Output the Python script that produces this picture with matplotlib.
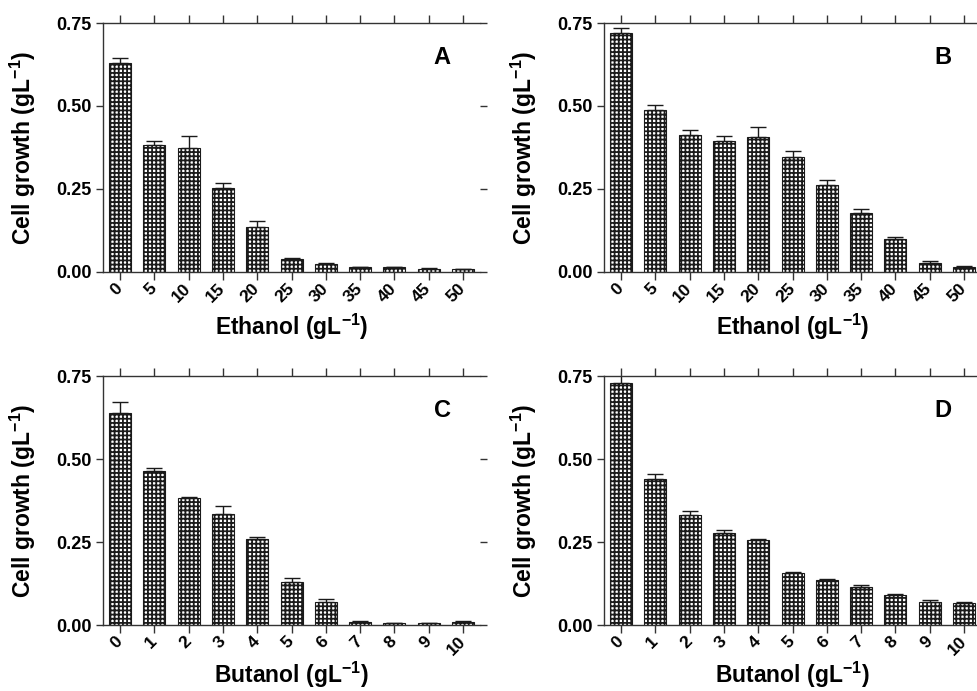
import numpy as np
import matplotlib
matplotlib.use("Agg")
import matplotlib.pyplot as plt
import matplotlib.transforms as mtransforms

plt.rcParams['font.family'] = ['Liberation Sans', 'DejaVu Sans']
plt.rcParams['font.weight'] = 'bold'
plt.rcParams['mathtext.fontset'] = 'custom'
plt.rcParams['mathtext.rm'] = 'Liberation Sans'
plt.rcParams['mathtext.bf'] = 'Liberation Sans:bold'
plt.rcParams['hatch.linewidth'] = 1.3

# concentrations (tick labels)
ethanol_conc = ['0', '5', '10', '15', '20', '25', '30', '35', '40', '45', '50']
butanol_conc = ['0', '1', '2', '3', '4', '5', '6', '7', '8', '9', '10']

# cell growth (g/L) and upper error
growth_a = [0.630, 0.383, 0.374, 0.253, 0.136, 0.040, 0.025, 0.015, 0.015, 0.010, 0.008]
err_a = [0.015, 0.011, 0.035, 0.014, 0.018, 0.001, 0.002, 0.001, 0.001, 0.001, 0.001]

growth_b = [0.719, 0.488, 0.413, 0.394, 0.407, 0.345, 0.262, 0.178, 0.100, 0.028, 0.016]
err_b = [0.015, 0.015, 0.015, 0.017, 0.030, 0.018, 0.015, 0.011, 0.005, 0.004, 0.001]

growth_c = [0.639, 0.463, 0.383, 0.334, 0.260, 0.131, 0.069, 0.010, 0.005, 0.006, 0.009]
err_c = [0.032, 0.009, 0.003, 0.024, 0.006, 0.012, 0.009, 0.001, 0.001, 0.001, 0.002]

growth_d = [0.730, 0.439, 0.332, 0.278, 0.255, 0.157, 0.137, 0.115, 0.091, 0.069, 0.067]
err_d = [0.025, 0.017, 0.011, 0.008, 0.005, 0.002, 0.001, 0.005, 0.002, 0.005, 0.001]

panels = [
    ('A', ethanol_conc, growth_a, err_a, 'Ethanol', [0.1054, 0.6064, 0.386, 0.3603], -0.253),
    ('B', ethanol_conc, growth_b, err_b, 'Ethanol', [0.6182, 0.6064, 0.386, 0.3603], -0.253),
    ('C', butanol_conc, growth_c, err_c, 'Butanol', [0.1054, 0.0955, 0.386, 0.3603], -0.233),
    ('D', butanol_conc, growth_d, err_d, 'Butanol', [0.6182, 0.0955, 0.386, 0.3603], -0.233),
]

fig = plt.figure(figsize=(9.77, 6.91), dpi=100)

for letter, conc, growth, err, solvent, rect, xlab_y in panels:
    ax = fig.add_axes(rect)
    x = np.arange(len(conc))
    ax.bar(x, growth, width=0.64, color='white', edgecolor='#1a1a1a',
           linewidth=0.8, hatch='++++')
    ax.errorbar(x, growth, yerr=[np.zeros(len(err)), err], fmt='none',
                ecolor='#1a1a1a', elinewidth=1.0, capsize=5.5, capthick=1.0)

    ax.set_xlim(-0.5, 10.5)
    ax.set_ylim(0, 0.75)
    ax.set_yticks([0, 0.25, 0.5, 0.75])
    ax.set_yticklabels(['0.00', '0.25', '0.50', '0.75'], fontsize=13,
                       fontweight='bold')
    ax.set_xticks(x)
    ax.set_xticklabels(conc, rotation=45, ha='right', va='center',
                       rotation_mode='anchor', fontsize=12.5, fontweight='bold')
    shift = mtransforms.ScaledTranslation(9 / 100, -4 / 100, fig.dpi_scale_trans)
    for lab in ax.get_xticklabels():
        lab.set_transform(lab.get_transform() + shift)

    ax.tick_params(axis='both', direction='out', length=5, width=1.0,
                   color='#333333', top=True, right=True, pad=3)
    ax.tick_params(axis='x', length=6, pad=4)
    ax.spines['right'].set_visible(False)
    for side in ['left', 'bottom', 'top']:
        ax.spines[side].set_linewidth(1.0)
        ax.spines[side].set_color('#333333')

    ax.set_ylabel('Cell growth (gL$^{\\mathbf{-1}}$)', fontsize=16.5,
                  fontweight='bold')
    ax.yaxis.set_label_coords(-0.173, 0.5)
    ax.set_xlabel(solvent + ' (gL$^{\\mathbf{-1}}$)', fontsize=16.5,
                  fontweight='bold', va='baseline')
    ax.xaxis.set_label_coords(0.5, xlab_y)

    ax.text(0.9, 0.86, letter, transform=ax.transAxes, fontsize=17,
            fontweight='bold', ha='center', va='center')

plt.savefig('out.png', dpi=100)
